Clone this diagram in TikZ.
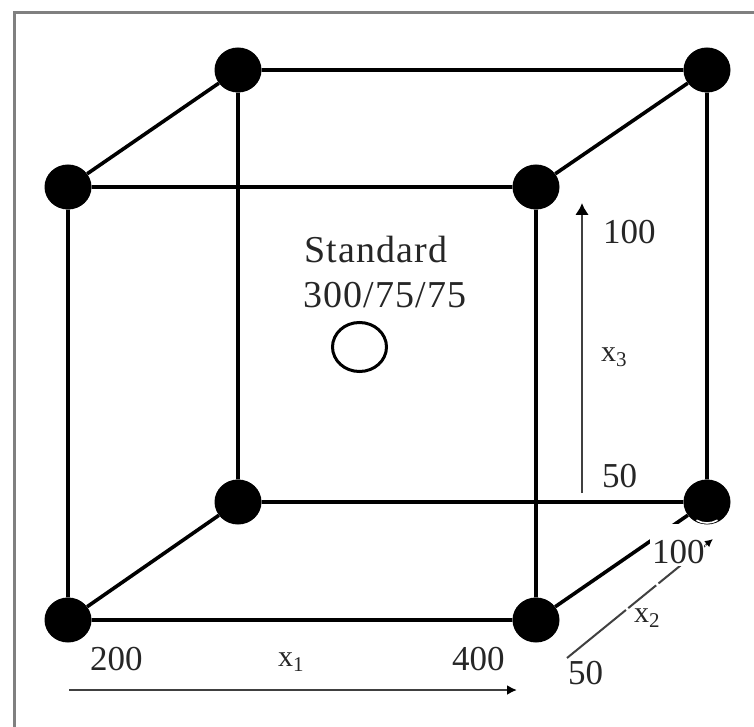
\documentclass[tikz,border=0pt]{standalone}
\usepackage{fontspec}
\setmainfont{Liberation Serif}
\usetikzlibrary{arrows.meta,shapes.geometric,calc}
\tikzset{
  vertex/.style={ellipse,fill=black,draw=none,minimum width=47pt,minimum height=45pt,inner sep=0pt},
  edge/.style={line width=3.6pt,black},
  axisline/.style={line width=2.6pt,black!75,-{Latex[length=12pt,width=14pt,black]}},
  lab/.style={inner sep=0pt,text=black!85,font=\fontsize{35}{36}\selectfont},
  spaced/.style={inner sep=0pt,text=black!85,font=\fontsize{38}{40}\selectfont\addfontfeature{LetterSpace=3}},
  lab2/.style={inner sep=0pt,text=black!85,font=\fontsize{30}{32}\selectfont},
}
\begin{document}
\begin{tikzpicture}[x=1pt,y=-1pt]
\useasboundingbox (0,0) rectangle (754,727);
\draw[line width=3pt,black!50] (14,727) -- (14,13) -- (754,13);
\node[vertex] (a) at (68,187) {};
\node[vertex] (b) at (536,187) {};
\node[vertex] (c) at (238,70) {};
\node[vertex] (d) at (707,70) {};
\node[vertex] (e) at (68,620) {};
\node[vertex] (f) at (536,620) {};
\node[vertex] (g) at (238,502) {};
\node[vertex] (h) at (707,502) {};
\draw[edge] (a)--(b) (a)--(c) (a)--(e) (b)--(d) (b)--(f) (c)--(d) (c)--(g) (d)--(h) (e)--(f) (e)--(g) (f)--(h) (g)--(h);
\node[ellipse,draw=black,line width=3pt,fill=white,minimum width=54pt,minimum height=49pt,inner sep=0pt] (std) at (359.5,347) {};
\node[spaced,anchor=west] (t1) at (304,250) {Standard};
\node[spaced,anchor=west] (t2) at (303,295) {300/75/75};
\node[lab,anchor=west] (l100) at (603,232) {100};
\node[lab,anchor=west] (l50) at (602,476) {50};
\node[lab2,anchor=west] (x3) at (601,357) {x\textsubscript{3}};
\node[lab,anchor=west] (l200) at (90,659) {200};
\node[lab,anchor=west] (l400) at (452,659) {400};
\node[lab2,anchor=west] (x1) at (278,662) {x\textsubscript{1}};
\node[lab2,anchor=west] (x2) at (634,618) {x\textsubscript{2}};
\node[lab,anchor=west] (r50) at (568,673) {50};
\coordinate (x3s) at (582,493); \coordinate (x3e) at (582,203);
\coordinate (x1s) at (69,690); \coordinate (x1e) at (517,690);
\coordinate (x2s) at (567,658); \coordinate (x2e) at (713,539);
\draw[axisline] (x3s)--(x3e);
\draw[line width=2.6pt,black!75,-{Latex[length=10pt,width=10pt,black]}] (x1s)--(x1e);
\draw[line width=2pt,black!75,dash pattern=on 76pt off 3pt on 36pt off 3pt on 60pt off 100pt] (x2s)--(x2e);
\fill[white] (650,524) rectangle (704,566);
\draw[white,line width=1.6pt] (707,502) ++(60:21) arc[start angle=60,end angle=120,radius=21];
\draw[line width=2pt,black!75,-{Latex[length=8pt,width=8pt,black]}] ($(x2e)!0.05!(x2s)$) -- (x2e);
\node[lab,anchor=west] (r100) at (652,552) {100};
\end{tikzpicture}
\end{document}
